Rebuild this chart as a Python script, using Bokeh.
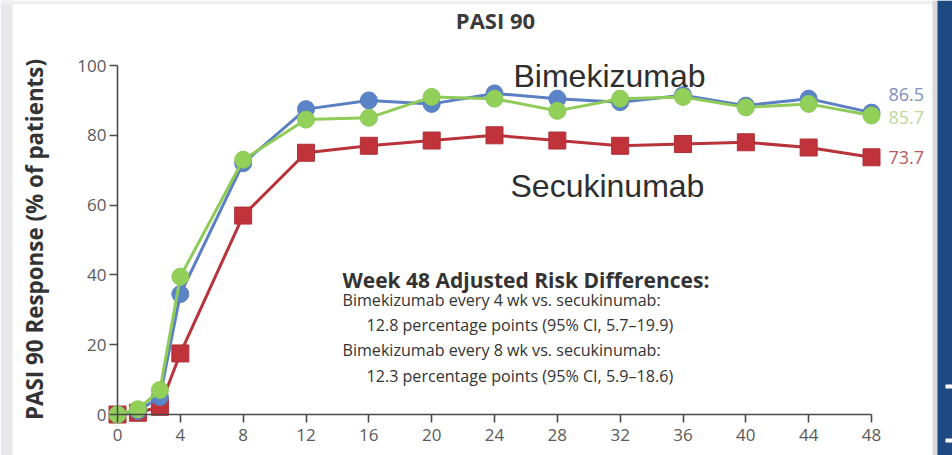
import math

from bokeh.core.properties import value
from bokeh.embed import file_html
from bokeh.models import BoxAnnotation, FixedTicker, Range1d
from bokeh.plotting import figure
from bokeh.resources import INLINE

# PASI 90 response over 48 weeks (% of patients)
weeks = [0, 1.3, 2.7, 4, 8, 12, 16, 20, 24, 28, 32, 36, 40, 44, 48]
bime_q4w = [0, 1, 5, 34.5, 72, 87.5, 90, 89, 92, 90.5, 89.5, 91.5, 88.5, 90.5, 86.5]
bime_q8w = [0, 1.5, 7, 39.5, 73, 84.5, 85, 91, 90.5, 87, 90.5, 91, 88, 89, 85.7]
secukinumab = [0, 0.5, 2.2, 17.5, 57, 75, 77, 78.5, 80, 78.5, 77, 77.5, 78, 76.5, 73.7]

x_ticks = list(range(0, 49, 4))
y_ticks = [0, 20, 40, 60, 80, 100]

title_text = "PASI 90"
y_label = "PASI 90 Response (% of patients)"
note_lines = [
    "Week 48 Adjusted Risk Differences:",
    "Bimekizumab every 4 wk vs. secukinumab:",
    "12.8 percentage points (95% CI, 5.7\u201319.9)",
    "Bimekizumab every 8 wk vs. secukinumab:",
    "12.3 percentage points (95% CI, 5.9\u201318.6)",
]

W, H = 952, 455
# pixel layout of the plotting area: week 0 at x=117, week 48 at x=871;
# 0 % at y=414, 100 % at y=65 (measured from the top)
SX = (871 - 117) / 48.0
SY = (414 - 65) / 100.0
X0 = -117 / SX
Y1 = 414 / SY


def dx(px):
    return X0 + px / SX


def dy(py):
    return Y1 - py / SY


p = figure(
    width=W, height=H,
    x_range=Range1d(dx(0), dx(W)), y_range=Range1d(dy(H), dy(0)),
    output_backend="svg", toolbar_location=None,
    min_border=0, min_border_left=0, min_border_right=0,
    min_border_top=0, min_border_bottom=0,
)
p.outline_line_color = None
p.background_fill_color = "white"
p.border_fill_color = "white"
p.xgrid.visible = False
p.ygrid.visible = False

# page frame: grey margins and the dark blue side bar
p.add_layout(BoxAnnotation(right=dx(12), fill_color="#e8e8ea", fill_alpha=1, line_color=None, level="underlay"))
p.add_layout(BoxAnnotation(bottom=dy(4), fill_color="#efeff1", fill_alpha=1, line_color=None, level="underlay"))
p.add_layout(BoxAnnotation(left=dx(932), fill_color="#d8d8dc", fill_alpha=1, line_color=None, level="underlay"))
p.add_layout(BoxAnnotation(left=dx(937), fill_color="#1e4a82", fill_alpha=1, line_color=None, level="underlay"))
p.add_layout(BoxAnnotation(left=dx(945), top=dy(384), bottom=dy(388), fill_color="white", fill_alpha=1, line_color=None))
p.add_layout(BoxAnnotation(left=dx(945), top=dy(438), bottom=dy(442), fill_color="white", fill_alpha=1, line_color=None))

# axes drawn at the data origin
for ax, ticks, bounds in ((p.xaxis, x_ticks, (0, 48)), (p.yaxis, y_ticks, (0, 100))):
    ax.fixed_location = 0
    ax.bounds = bounds
    ax.ticker = FixedTicker(ticks=ticks)
    ax.minor_tick_line_color = None
    ax.major_tick_in = 0
    ax.major_tick_out = 8
    ax.axis_line_color = "#4a4a4a"
    ax.axis_line_width = 1.6
    ax.major_tick_line_color = "#4a4a4a"
    ax.major_tick_line_width = 1.6
    ax.major_label_text_font = "Open Sans"
    ax.major_label_text_font_size = "17px"
    ax.major_label_text_color = "#5a5a5a"
p.xaxis.major_label_standoff = 6
p.yaxis.major_label_standoff = 3

# series
red, blue, green = "#c0333a", "#5a84c6", "#93d05a"
p.line(weeks, secukinumab, line_color="#b8333a", line_width=3)
p.scatter(weeks, secukinumab, marker="square", size=17, fill_color=red, line_color="#b03038", line_width=1)
p.line(weeks, bime_q4w, line_color="#5b7fc2", line_width=3)
p.scatter(weeks, bime_q4w, marker="circle", size=17, fill_color=blue, line_color="#5a80c0", line_width=1)
p.line(weeks, bime_q8w, line_color="#8ecb58", line_width=3)
p.scatter(weeks, bime_q8w, marker="circle", size=17, fill_color=green, line_color="#8cc958", line_width=1)

# week-48 values beside the last points
end_font = value("Open Sans")
for series, color, yoff in ((bime_q4w, "#7f90bd", -18), (bime_q8w, "#bcd89c", 2), (secukinumab, "#b95a5e", 0)):
    p.text(x=[weeks[-1]], y=[series[-1]], text=[f"{series[-1]:.1f}"],
           x_offset=17, y_offset=yoff, text_font=end_font, text_font_size="18px",
           text_color=color, text_baseline="middle", text_align="left")

# series names
name_font = value("Liberation Sans")
p.text(x=[dx(513)], y=[dy(75)], text=["Bimekizumab"], text_font=name_font,
       text_font_size="32px", text_color="#2e2e2e", text_baseline="alphabetic")
p.text(x=[dx(510)], y=[dy(185)], text=["Secukinumab"], text_font=name_font,
       text_font_size="32px", text_color="#2e2e2e", text_baseline="alphabetic")

# title and y-axis label
p.text(x=[dx(495)], y=[dy(19)], text=[title_text], text_font=value("Open Sans"),
       text_font_style="bold", text_font_size="22px", text_color="#3a3a3a",
       text_align="center", text_baseline="middle")
p.text(x=[dx(34)], y=[dy(239)], text=[y_label], text_font=value("Open Sans"),
       text_font_style="bold", text_font_size="22.4px", text_color="#333333",
       text_align="center", text_baseline="middle", angle=math.pi / 2)

# risk-difference note
note_x = [342, 342, 366, 342, 366]
note_base = [279, 299, 324, 349, 375]
for i, line in enumerate(note_lines):
    p.text(x=[dx(note_x[i])], y=[dy(note_base[i])], text=[line], text_font=value("Open Sans"),
           text_font_style="bold" if i == 0 else "normal",
           text_font_size="21px" if i == 0 else "16.1px",
           text_color="#333333", text_baseline="alphabetic", text_align="left")

open("out.html", "w").write(file_html(p, INLINE))
